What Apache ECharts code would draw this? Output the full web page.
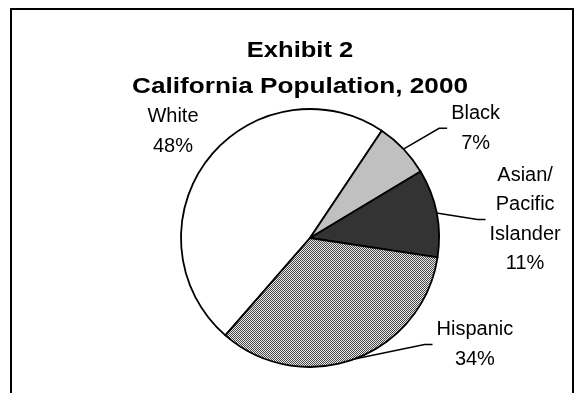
<!DOCTYPE html>
<html>
<head>
<meta charset="utf-8">
<script src="https://cdn.jsdelivr.net/npm/echarts@6/dist/echarts.min.js"></script>
<style>
  html, body { margin: 0; padding: 0; background: #fff; }
  #chart { width: 583px; height: 393px; }
</style>
</head>
<body>
<div id="chart"></div>
<script>
// California population by race/ethnicity, 2000 (percent of total)
const titleLines = ['Exhibit 2', 'California Population, 2000'];
const categories = ['White', 'Black', 'Asian/Pacific Islander', 'Hispanic'];
const shares = [48, 7, 11, 34];

// Fine dither used for the Hispanic slice
function ditherPattern() {
  const c = document.createElement('canvas');
  c.width = 2; c.height = 2;
  const g = c.getContext('2d');
  g.fillStyle = '#e8e8e8'; g.fillRect(0, 0, 2, 2);
  g.fillStyle = '#4a4a4a'; g.fillRect(0, 0, 1, 1); g.fillRect(1, 1, 1, 1);
  return c;
}

const sliceFills = ['#ffffff', '#c0c0c0', '#333333', { image: ditherPattern(), repeat: 'repeat' }];
// label anchoring: leader lengths and vertical nudge for each slice label
const labelLines = [
  { show: false, length: 0, length2: 5 },
  { show: true, length: 30, length2: 22 },
  { show: true, length: 0, length2: 49 },
  { show: true, length: 0, length2: 78 }
];
const labelNudge = [-28, 0, 6.5, -14.5];

const chart = echarts.init(document.getElementById('chart'), null, { renderer: 'canvas' });

const FONT = '"Liberation Sans", Arial, sans-serif';

chart.setOption({
  backgroundColor: '#ffffff',
  animation: false,
  graphic: [
    {
      type: 'rect', silent: true,
      shape: { x: 11, y: 9, width: 562, height: 420 },
      style: { fill: 'none', stroke: '#000', lineWidth: 2 }
    },
    {
      type: 'text', silent: true, x: 300, y: 51, scaleX: 1.16,
      style: { text: titleLines[0], font: 'bold 22px ' + FONT, align: 'center', verticalAlign: 'middle', fill: '#000' }
    },
    {
      type: 'text', silent: true, x: 300, y: 87, scaleX: 1.19,
      style: { text: titleLines[1], font: 'bold 22px ' + FONT, align: 'center', verticalAlign: 'middle', fill: '#000' }
    }
  ],
  series: [{
    type: 'pie',
    center: [310, 238],
    radius: 129,
    startAngle: 229,
    clockwise: true,
    avoidLabelOverlap: false,
    silent: true,
    itemStyle: { borderColor: '#000', borderWidth: 1.8 },
    label: {
      show: true,
      position: 'outside',
      distanceToLabelLine: 4,
      color: '#000',
      fontFamily: FONT,
      fontSize: 20,
      lineHeight: 29.5,
      formatter: function (p) {
        return p.name.replace('/', '/\n').replace(' ', '\n') + '\n' + Math.round(p.percent) + '%';
      }
    },
    labelLine: { lineStyle: { color: '#000', width: 1.5 } },
    labelLayout: function (p) {
      const r = p.labelRect;
      const cy = r.y + r.height / 2 + labelNudge[p.dataIndex];
      const pts = p.labelLinePoints;
      const start = pts ? pts[0] : [0, 0];
      const right = start[0] > 310;
      const endX = right ? r.x - 4 : r.x + r.width + 4;
      const bend = right ? endX - 8 : endX + 8;
      return {
        x: r.x + r.width / 2,
        y: cy,
        align: 'center',
        verticalAlign: 'middle',
        labelLinePoints: [start, [bend, cy], [endX, cy]]
      };
    },
    emphasis: { disabled: true },
    data: categories.map(function (name, i) {
      return {
        name: name,
        value: shares[i],
        itemStyle: { color: sliceFills[i] },
        labelLine: labelLines[i]
      };
    })
  }]
});
</script>
</body>
</html>
